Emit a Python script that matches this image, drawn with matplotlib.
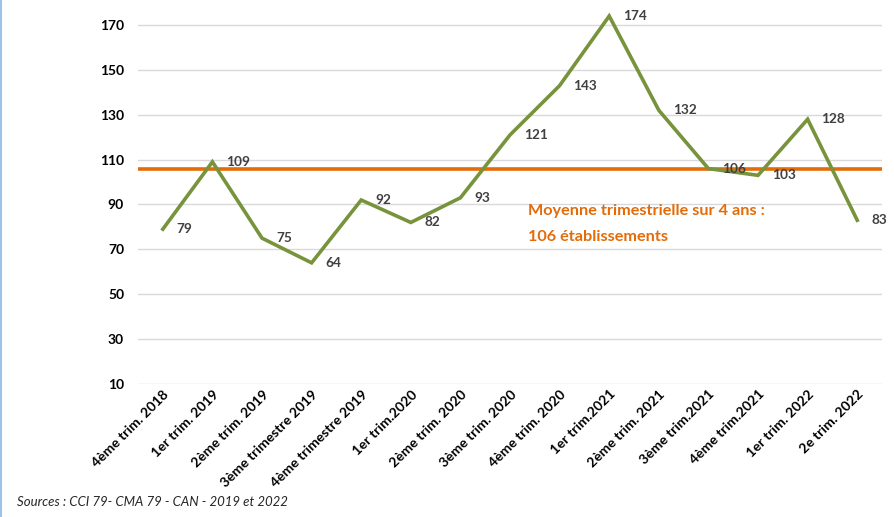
import matplotlib
matplotlib.use("Agg")
import matplotlib.pyplot as plt
from matplotlib.lines import Line2D

categories = ["4ème trim. 2018", "1er trim. 2019", "2ème trim. 2019", "3ème trimestre 2019",
              "4ème trimestre 2019", "1er trim.2020", "2ème trim. 2020", "3ème trim. 2020",
              "4ème trim. 2020", "1er trim.2021", "2ème trim. 2021", "3ème trim.2021",
              "4ème trim.2021", "1er trim. 2022", "2e trim. 2022"]
values = [79, 109, 75, 64, 92, 82, 93, 121, 143, 174, 132, 106, 103, 128, 83]
average = 106
yticks = [10, 30, 50, 70, 90, 110, 130, 150, 170]

plt.rcParams['font.family'] = ['Lato', 'DejaVu Sans']

fig = plt.figure(figsize=(8.95, 5.17), dpi=100)
ax = fig.add_axes([0.1542, 0.2573, 0.8313, 0.7377])

x = list(range(len(categories)))
ax.set_xlim(-0.5, len(categories) - 0.5)
ax.set_ylim(10, 180)
ax.set_yticks(yticks)
ax.grid(axis='y', color='#D9D9D9', linewidth=1)
ax.set_axisbelow(True)
for s in ax.spines.values():
    s.set_visible(False)
ax.tick_params(length=0)
ax.tick_params(axis='y', pad=10)
ax.tick_params(axis='x', pad=3)

ax.axhline(average, color='#E36C09', linewidth=2.6, zorder=2)
ax.plot(x, values, color='#77933C', linewidth=2.6, zorder=3, solid_joinstyle='miter')

for xi, v in zip(x, values):
    ax.annotate(str(v), (xi, v), xytext=(10, 0), textcoords='offset points',
                ha='left', va='center', fontsize=9.8, fontweight='bold', color='#404040', zorder=4)

ax.set_xticks(x)
ax.set_xticklabels(categories, rotation=45, ha='right', rotation_mode='anchor',
                   fontsize=10, fontweight='bold', color='black')
for lab in ax.get_yticklabels():
    lab.set_fontsize(10)
    lab.set_fontweight('bold')
    lab.set_color('black')

ax.text(7.36, 90.3, "Moyenne trimestrielle sur 4 ans :\n106 établissements",
        ha='left', va='top', fontsize=11.7, fontweight='bold', color='#E36C09',
        linespacing=2.1)

fig.text(0.019, 0.017, "Sources : CCI 79- CMA 79 - CAN - 2019 et 2022", ha='left', va='bottom',
         fontsize=9.5, style='italic', color='#262626')

fig.add_artist(Line2D([0.001, 0.001], [0, 1], transform=fig.transFigure, color='#9DC3E6', linewidth=1.5))

fig.savefig("out.png", dpi=100)
